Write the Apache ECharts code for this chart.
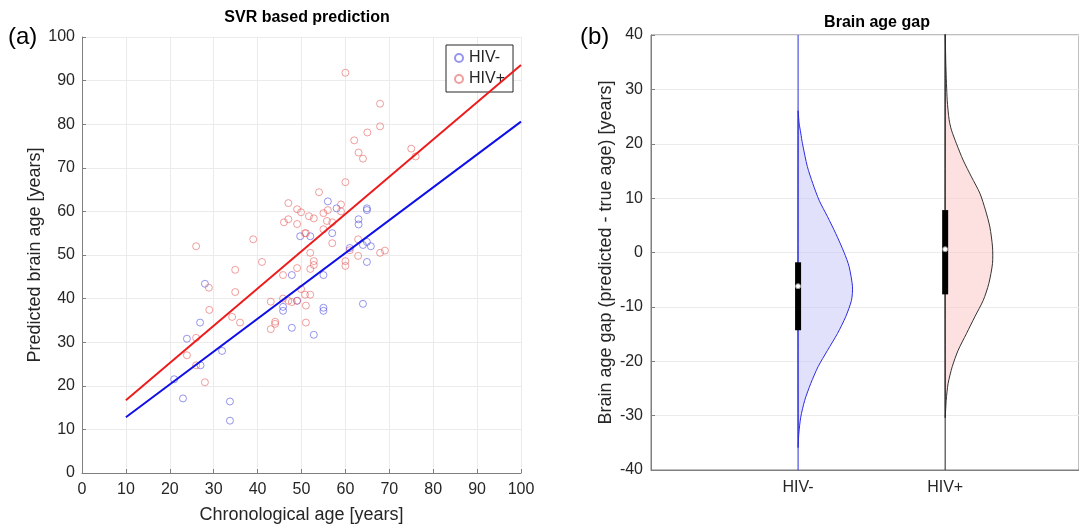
<!DOCTYPE html>
<html>
<head>
<meta charset="utf-8">
<script src="https://cdn.jsdelivr.net/npm/echarts@6/dist/echarts.min.js"></script>
<style>
html, body { margin: 0; padding: 0; background: #fff; }
#chart { width: 1079px; height: 529px; }
</style>
</head>
<body>
<div id="chart"></div>
<script>
// (a) chronological age vs predicted brain age
const hivNeg = [
  [21, 21.5], [23, 17.1], [23.9, 30.8], [26.9, 34.5], [27, 24.7], [28, 43.4], [31.9, 28],
  [33.7, 16.4], [33.7, 12], [45.8, 38.1], [45.8, 37.2], [47.8, 45.4], [47.8, 33.3], [49, 39.5],
  [49.7, 54.3], [52, 54.3], [57, 55], [55, 45.4], [55, 37.9], [55, 37.2], [52.8, 31.7],
  [56, 62.3], [58, 60.7], [64.9, 60.7], [64.9, 60.3], [63, 58.2], [63, 57], [61, 51.6],
  [64, 52.3], [64.9, 53], [65.8, 52], [64.9, 48.4], [64, 38.8]
];
const hivPos = [
  [23.9, 27], [26, 52], [26, 31], [26, 24.7], [28, 20.8], [28.9, 42.5], [29, 37.4],
  [34.2, 35.8], [34.9, 46.6], [34.9, 41.5], [36, 34.5], [39, 53.6], [41, 48.4], [43, 39.3],
  [44, 34.7], [44, 34.2], [43, 33], [45.8, 45.4], [45.8, 40], [47, 39.5], [47.8, 39.2],
  [49, 39.5], [49, 47], [46, 57.5], [47, 58.2], [47, 61.9], [49, 60.5], [49.9, 59.8],
  [49, 57.1], [50.8, 55], [51.7, 58.9], [52.8, 58.4], [55, 59.6], [56, 60.3], [55.8, 57.8],
  [57, 57.5], [59, 60], [59, 61.6], [54, 64.4], [60, 66.7], [55, 55.9], [57, 52.7], [51, 55],
  [52, 50.5], [52.8, 48.6], [52.8, 47.7], [52, 46.8], [60, 48.6], [60, 47.5], [62.9, 53.6],
  [62.9, 49.8], [61, 51.1], [67.9, 50.5], [69, 51], [49.9, 42.2], [50.8, 40.9], [52, 40.9],
  [51, 38.4], [51, 34.5], [60, 91.8], [67.9, 84.7], [67.9, 79.5], [65, 78.1], [62, 76.3],
  [63, 73.5], [64, 72.1], [75, 74.4], [76, 72.6]
];
const fitNeg = [[10, 12.8], [100, 80.6]];
const fitPos = [[10, 16.7], [100, 93.6]];

// (b) brain age gap violins (half width in category units at each gap value)
const groups = ['HIV-', 'HIV+'];
const violinNegY = [26, 23.8, 22, 20, 15.8, 12.7, 9.6, 6.6, 3.5, 0, -2.6, -6.3, -8.8, -11.8, -14.9, -18, -21, -24.1, -27.2, -30.3, -33.3, -35.8];
const violinNegW = [0, 0.007, 0.018, 0.03, 0.063, 0.1, 0.143, 0.2, 0.256, 0.313, 0.347, 0.37, 0.363, 0.324, 0.268, 0.2, 0.136, 0.086, 0.045, 0.018, 0.005, 0];
const violinPosY = [40, 34.2, 28, 24.4, 22.5, 20, 17, 13.9, 10.9, 7.8, 4.7, 1, -2, -5.7, -8.8, -11.8, -14.9, -18, -21, -24.1, -27.2, -30.3];
const violinPosW = [0, 0.005, 0.014, 0.027, 0.043, 0.077, 0.122, 0.179, 0.236, 0.274, 0.304, 0.322, 0.322, 0.297, 0.259, 0.202, 0.145, 0.088, 0.048, 0.02, 0.007, 0];
// q1, median, q3
const boxNeg = [-14.3, -6.2, -1.8];
const boxPos = [-7.7, 0.6, 7.8];

const font = 'Liberation Sans, Arial, sans-serif';
const txt = '#262626';
const axisGray = '#7f7f7f';

const chart = echarts.init(document.getElementById('chart'));

const violinSeries = (g, ys, ws, stroke, fill) => {
  const pts = ys.map((y, i) => [g + ws[i], y]);
  return {
    type: 'custom',
    xAxisIndex: 1,
    yAxisIndex: 1,
    data: pts,
    silent: true,
    renderItem: (params, api) => {
      if (params.dataIndex !== 0) return;
      return {
        type: 'polygon',
        shape: { points: pts.map((p) => api.coord(p)), smooth: 0.25 },
        style: { fill: fill, stroke: stroke, lineWidth: 1 },
      };
    },
    z: 2,
  };
};

const boxSeries = (g, box) => ({
  type: 'custom',
  xAxisIndex: 1,
  yAxisIndex: 1,
  data: [[g, box[0], box[1], box[2]]],
  encode: { x: 0, y: [1, 2, 3] },
  silent: true,
  renderItem: (params, api) => {
    const lo = api.coord([api.value(0), api.value(1)]);
    const med = api.coord([api.value(0), api.value(2)]);
    const hi = api.coord([api.value(0), api.value(3)]);
    return {
      type: 'group',
      children: [
        {
          type: 'rect',
          shape: { x: lo[0] - 3, y: hi[1], width: 6, height: lo[1] - hi[1] },
          style: { fill: '#000' },
        },
        {
          type: 'circle',
          shape: { cx: med[0], cy: med[1], r: 2.5 },
          style: { fill: '#fff', stroke: '#999', lineWidth: 1 },
        },
      ],
    };
  },
  z: 5,
});

chart.setOption({
  animation: false,
  title: [
    {
      text: 'SVR based prediction',
      left: 302,
      top: 5,
      textAlign: 'center',
      textStyle: { fontFamily: font, fontSize: 16, fontWeight: 'bold', color: '#000' },
    },
    {
      text: 'Brain age gap',
      left: 872,
      top: 10,
      textAlign: 'center',
      textStyle: { fontFamily: font, fontSize: 16, fontWeight: 'bold', color: '#000' },
    },
  ],
  graphic: [
    { type: 'text', left: 8, top: 25, style: { text: '(a)', font: '24px ' + font, fill: '#000' } },
    { type: 'text', left: 580, top: 25, style: { text: '(b)', font: '24px ' + font, fill: '#000' } },
  ],
  legend: {
    orient: 'vertical',
    left: 446,
    top: 45,
    padding: [5, 8, 5, 8],
    itemGap: 5,
    itemWidth: 10,
    itemHeight: 8,
    backgroundColor: '#fff',
    borderColor: '#262626',
    borderWidth: 1,
    borderRadius: 0,
    textStyle: { fontFamily: font, fontSize: 16, color: txt },
    data: ['HIV-', 'HIV+'],
  },
  grid: [
    { left: 82, top: 37, right: 558, bottom: 54 },
    { left: 651, top: 35, right: 0, bottom: 59, show: true, borderColor: axisGray, borderWidth: 1 },
  ],
  xAxis: [
    {
      gridIndex: 0,
      type: 'value',
      min: 0,
      max: 100,
      interval: 10,
      name: 'Chronological age [years]',
      nameLocation: 'middle',
      nameGap: 33,
      nameTextStyle: { fontFamily: font, fontSize: 18, color: txt },
      axisLine: { onZero: false, lineStyle: { color: axisGray } },
      axisTick: { inside: true, length: 4, lineStyle: { color: axisGray } },
      axisLabel: { fontFamily: font, fontSize: 16, color: txt, margin: 9 },
      splitLine: { show: true, lineStyle: { color: '#ebebeb' } },
    },
    {
      gridIndex: 1,
      type: 'value',
      min: 0,
      max: 2.91,
      interval: 1,
      axisLine: { onZero: false, lineStyle: { color: axisGray } },
      axisTick: { show: false },
      axisLabel: {
        fontFamily: font,
        fontSize: 16,
        color: txt,
        margin: 10,
        showMaxLabel: false,
        formatter: (v) => groups[v - 1] || '',
      },
      splitLine: { show: false },
    },
  ],
  yAxis: [
    {
      gridIndex: 0,
      type: 'value',
      min: 0,
      max: 100,
      interval: 10,
      name: 'Predicted brain age [years]',
      nameLocation: 'middle',
      nameGap: 35,
      nameTextStyle: { fontFamily: font, fontSize: 18, color: txt },
      axisLine: { show: true, onZero: false, lineStyle: { color: axisGray } },
      axisTick: { show: true, inside: true, length: 4, lineStyle: { color: axisGray } },
      axisLabel: { fontFamily: font, fontSize: 16, color: txt, margin: 7 },
      splitLine: { show: true, lineStyle: { color: '#ebebeb' } },
    },
    {
      gridIndex: 1,
      type: 'value',
      min: -40,
      max: 40,
      interval: 10,
      name: 'Brain age gap (predicted - true age) [years]',
      nameLocation: 'middle',
      nameGap: 36,
      nameTextStyle: { fontFamily: font, fontSize: 18, color: txt },
      axisLine: { show: true, onZero: false, lineStyle: { color: axisGray } },
      axisTick: { show: true, inside: true, length: 4, lineStyle: { color: axisGray } },
      axisLabel: { fontFamily: font, fontSize: 16, color: txt, margin: 8 },
      splitLine: { show: true, lineStyle: { color: '#ebebeb' } },
    },
  ],
  series: [
    {
      name: 'HIV-',
      type: 'scatter',
      xAxisIndex: 0,
      yAxisIndex: 0,
      symbol: 'circle',
      symbolSize: 7,
      itemStyle: { color: 'rgba(0,0,0,0)', borderColor: 'rgba(80,80,225,0.75)', borderWidth: 1 },
      data: hivNeg,
      z: 3,
    },
    {
      name: 'HIV+',
      type: 'scatter',
      xAxisIndex: 0,
      yAxisIndex: 0,
      symbol: 'circle',
      symbolSize: 7,
      itemStyle: { color: 'rgba(0,0,0,0)', borderColor: 'rgba(230,95,95,0.75)', borderWidth: 1 },
      data: hivPos,
      z: 3,
    },
    {
      type: 'line',
      xAxisIndex: 0,
      yAxisIndex: 0,
      data: fitNeg,
      symbol: 'none',
      lineStyle: { color: '#1010e6', width: 2 },
      silent: true,
      z: 4,
    },
    {
      type: 'line',
      xAxisIndex: 0,
      yAxisIndex: 0,
      data: fitPos,
      symbol: 'none',
      lineStyle: { color: '#ec1c1c', width: 2 },
      silent: true,
      z: 4,
    },
    violinSeries(1, violinNegY, violinNegW, '#2b2be0', 'rgba(200,200,250,0.55)'),
    violinSeries(2, violinPosY, violinPosW, '#333', 'rgba(252,205,205,0.6)'),
    {
      type: 'line',
      xAxisIndex: 1,
      yAxisIndex: 1,
      data: [[1, -40], [1, 40]],
      symbol: 'none',
      lineStyle: { color: '#2b2be0', width: 1 },
      silent: true,
      z: 3,
    },
    {
      type: 'line',
      xAxisIndex: 1,
      yAxisIndex: 1,
      data: [[2, -40], [2, 40]],
      symbol: 'none',
      lineStyle: { color: '#222', width: 1 },
      silent: true,
      z: 3,
    },
    boxSeries(1, boxNeg),
    boxSeries(2, boxPos),
  ],
});
</script>
</body>
</html>
